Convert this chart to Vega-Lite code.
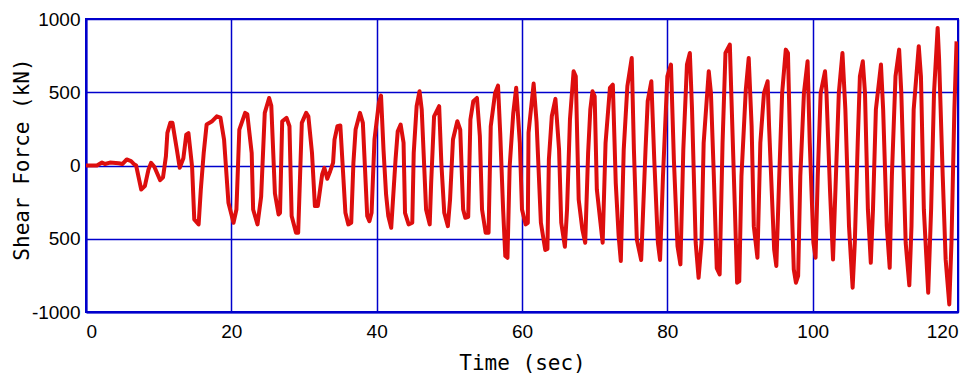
{
  "$schema": "https://vega.github.io/schema/vega-lite/v6.json",
  "width": 872,
  "height": 293,
  "autosize": {"type": "none"},
  "padding": {"left": 86, "top": 19, "right": 22, "bottom": 69},
  "background": "white",
  "config": {
    "view": {"stroke": "#0000cc", "strokeWidth": 2},
    "axis": {
      "grid": true,
      "gridColor": "#0000cc",
      "gridWidth": 1.5,
      "gridOpacity": 1,
      "domainColor": "#0000cc",
      "domainWidth": 2,
      "ticks": false,
      "labelColor": "black",
      "labelFont": "Liberation Sans",
      "labelFontSize": 19,
      "titleColor": "black",
      "titleFont": "DejaVu Sans Mono",
      "titleFontSize": 21,
      "titleFontWeight": "normal"
    }
  },
  "data": {
    "values": [
      {"t": 0, "v": 0}, {"t": 1.5, "v": 0}, {"t": 2.2, "v": 20}, {"t": 2.6, "v": 10}, {"t": 3.3, "v": 20},
      {"t": 4.5, "v": 15}, {"t": 5.0, "v": 10}, {"t": 5.6, "v": 41}, {"t": 6.2, "v": 30}, {"t": 6.6, "v": 10},
      {"t": 6.9, "v": 0}, {"t": 7.6, "v": -164}, {"t": 8.1, "v": -141}, {"t": 8.6, "v": -27}, {"t": 8.95, "v": 18},
      {"t": 9.4, "v": -9}, {"t": 10.2, "v": -100}, {"t": 10.6, "v": -80}, {"t": 11.0, "v": 64}, {"t": 11.2, "v": 223},
      {"t": 11.6, "v": 291}, {"t": 11.9, "v": 291}, {"t": 12.5, "v": 109}, {"t": 12.9, "v": -16}, {"t": 13.4, "v": 50},
      {"t": 13.8, "v": 211}, {"t": 14.1, "v": 221}, {"t": 14.6, "v": -9}, {"t": 14.9, "v": -368}, {"t": 15.5, "v": -402},
      {"t": 15.8, "v": -164}, {"t": 16.2, "v": 86}, {"t": 16.6, "v": 280}, {"t": 17.3, "v": 300}, {"t": 18.0, "v": 336},
      {"t": 18.5, "v": 327}, {"t": 19.0, "v": 177}, {"t": 19.6, "v": -254}, {"t": 20.3, "v": -391}, {"t": 20.7, "v": -300},
      {"t": 21.1, "v": 245}, {"t": 21.9, "v": 359}, {"t": 22.2, "v": 350}, {"t": 22.8, "v": 86}, {"t": 23.0, "v": -300},
      {"t": 23.6, "v": -402}, {"t": 24.1, "v": -214}, {"t": 24.6, "v": 359}, {"t": 25.2, "v": 461}, {"t": 25.5, "v": 407},
      {"t": 26.0, "v": -191}, {"t": 26.5, "v": -334}, {"t": 26.7, "v": -323}, {"t": 27.0, "v": 302}, {"t": 27.6, "v": 325},
      {"t": 28.0, "v": 268}, {"t": 28.3, "v": -345}, {"t": 28.9, "v": -459}, {"t": 29.2, "v": -459}, {"t": 29.7, "v": 291},
      {"t": 30.3, "v": 359}, {"t": 30.6, "v": 336}, {"t": 31.1, "v": 86}, {"t": 31.5, "v": -277}, {"t": 31.9, "v": -277},
      {"t": 32.5, "v": -61}, {"t": 32.8, "v": -16}, {"t": 33.2, "v": -91}, {"t": 33.6, "v": -39}, {"t": 34.0, "v": 18},
      {"t": 34.2, "v": 177}, {"t": 34.6, "v": 268}, {"t": 35.0, "v": 273}, {"t": 35.7, "v": -323}, {"t": 36.1, "v": -402},
      {"t": 36.5, "v": -391}, {"t": 36.8, "v": 18}, {"t": 37.1, "v": 245}, {"t": 37.7, "v": 359}, {"t": 38.1, "v": 291},
      {"t": 38.7, "v": -345}, {"t": 39.0, "v": -380}, {"t": 39.3, "v": -323}, {"t": 39.7, "v": 177}, {"t": 40.3, "v": 427},
      {"t": 40.6, "v": 477}, {"t": 40.95, "v": 100}, {"t": 41.3, "v": -200}, {"t": 41.6, "v": -345}, {"t": 42.0, "v": -425},
      {"t": 42.6, "v": 41}, {"t": 42.9, "v": 234}, {"t": 43.3, "v": 280}, {"t": 43.7, "v": 155}, {"t": 43.9, "v": -323},
      {"t": 44.4, "v": -402}, {"t": 44.9, "v": -391}, {"t": 45.1, "v": 86}, {"t": 45.5, "v": 405}, {"t": 45.9, "v": 507},
      {"t": 46.2, "v": 382}, {"t": 46.8, "v": -300}, {"t": 47.3, "v": -402}, {"t": 47.5, "v": -118}, {"t": 47.9, "v": 336},
      {"t": 48.6, "v": 405}, {"t": 48.9, "v": 18}, {"t": 49.3, "v": -323}, {"t": 49.8, "v": -414}, {"t": 50.1, "v": -232},
      {"t": 50.5, "v": 177}, {"t": 51.1, "v": 302}, {"t": 51.5, "v": 245}, {"t": 51.9, "v": -300}, {"t": 52.2, "v": -357},
      {"t": 52.6, "v": -350}, {"t": 52.9, "v": 314}, {"t": 53.3, "v": 439}, {"t": 53.8, "v": 461}, {"t": 54.2, "v": 200},
      {"t": 54.5, "v": -300}, {"t": 55.0, "v": -459}, {"t": 55.4, "v": -459}, {"t": 55.7, "v": 268}, {"t": 56.3, "v": 495},
      {"t": 56.7, "v": 545}, {"t": 57.0, "v": 223}, {"t": 57.4, "v": -300}, {"t": 57.7, "v": -618}, {"t": 58.0, "v": -630},
      {"t": 58.3, "v": -9}, {"t": 58.8, "v": 359}, {"t": 59.2, "v": 530}, {"t": 59.7, "v": 155}, {"t": 60.0, "v": -300},
      {"t": 60.5, "v": -402}, {"t": 60.8, "v": -391}, {"t": 60.9, "v": 223}, {"t": 61.6, "v": 559}, {"t": 62.0, "v": 300},
      {"t": 62.6, "v": -391}, {"t": 63.2, "v": -577}, {"t": 63.5, "v": -570}, {"t": 63.7, "v": 41}, {"t": 64.1, "v": 336},
      {"t": 64.6, "v": 455}, {"t": 65.1, "v": 109}, {"t": 65.4, "v": -391}, {"t": 65.9, "v": -555}, {"t": 66.2, "v": -300},
      {"t": 66.6, "v": 314}, {"t": 67.1, "v": 643}, {"t": 67.4, "v": 609}, {"t": 67.8, "v": -232}, {"t": 68.3, "v": -436},
      {"t": 68.7, "v": -527}, {"t": 69.1, "v": 86}, {"t": 69.4, "v": 382}, {"t": 69.7, "v": 507}, {"t": 70.0, "v": 473},
      {"t": 70.3, "v": -164}, {"t": 70.8, "v": -391}, {"t": 71.1, "v": -527}, {"t": 71.5, "v": 155}, {"t": 72.1, "v": 530},
      {"t": 72.5, "v": 552}, {"t": 72.9, "v": -118}, {"t": 73.3, "v": -482}, {"t": 73.6, "v": -652}, {"t": 74.0, "v": 109},
      {"t": 74.5, "v": 541}, {"t": 75.1, "v": 734}, {"t": 75.4, "v": 109}, {"t": 75.8, "v": -505}, {"t": 76.4, "v": -645},
      {"t": 77.0, "v": 109}, {"t": 77.3, "v": 439}, {"t": 77.8, "v": 575}, {"t": 78.2, "v": 41}, {"t": 78.7, "v": -527},
      {"t": 79.0, "v": -645}, {"t": 79.4, "v": -73}, {"t": 80.0, "v": 609}, {"t": 80.5, "v": 689}, {"t": 80.9, "v": 41},
      {"t": 81.4, "v": -550}, {"t": 81.8, "v": -675}, {"t": 82.2, "v": 109}, {"t": 82.7, "v": 689}, {"t": 83.1, "v": 768},
      {"t": 83.4, "v": 382}, {"t": 83.9, "v": -527}, {"t": 84.3, "v": -766}, {"t": 84.7, "v": -527}, {"t": 85.0, "v": 155},
      {"t": 85.7, "v": 643}, {"t": 86.0, "v": 496}, {"t": 86.4, "v": -73}, {"t": 86.8, "v": -700}, {"t": 87.2, "v": -743},
      {"t": 87.6, "v": 155}, {"t": 88.0, "v": 768}, {"t": 88.6, "v": 825}, {"t": 88.8, "v": 496}, {"t": 89.3, "v": -300},
      {"t": 89.6, "v": -800}, {"t": 89.9, "v": -789}, {"t": 90.2, "v": -73}, {"t": 90.8, "v": 518}, {"t": 91.2, "v": 734},
      {"t": 91.6, "v": 268}, {"t": 91.9, "v": -414}, {"t": 92.4, "v": -630}, {"t": 92.8, "v": 155}, {"t": 93.3, "v": 495},
      {"t": 93.8, "v": 575}, {"t": 94.0, "v": 268}, {"t": 94.7, "v": -573}, {"t": 95.0, "v": -686}, {"t": 95.4, "v": -73},
      {"t": 95.8, "v": 495}, {"t": 96.3, "v": 791}, {"t": 96.6, "v": 768}, {"t": 97.0, "v": -73}, {"t": 97.4, "v": -709},
      {"t": 97.7, "v": -800}, {"t": 98.0, "v": -754}, {"t": 98.3, "v": -73}, {"t": 98.8, "v": 495}, {"t": 99.3, "v": 711},
      {"t": 99.6, "v": 155}, {"t": 100.1, "v": -527}, {"t": 100.4, "v": -630}, {"t": 100.7, "v": -73}, {"t": 101.1, "v": 495},
      {"t": 101.7, "v": 643}, {"t": 101.9, "v": 495}, {"t": 102.4, "v": -186}, {"t": 102.8, "v": -641}, {"t": 103.2, "v": -73},
      {"t": 103.6, "v": 495}, {"t": 104.1, "v": 768}, {"t": 104.5, "v": 382}, {"t": 105.0, "v": -414}, {"t": 105.5, "v": -834},
      {"t": 105.8, "v": -527}, {"t": 106.2, "v": 155}, {"t": 106.5, "v": 609}, {"t": 106.9, "v": 711}, {"t": 107.2, "v": 495},
      {"t": 107.6, "v": -300}, {"t": 108.0, "v": -664}, {"t": 108.3, "v": -300}, {"t": 108.7, "v": 382}, {"t": 109.4, "v": 689},
      {"t": 109.7, "v": 382}, {"t": 110.2, "v": -414}, {"t": 110.6, "v": -698}, {"t": 110.9, "v": -73}, {"t": 111.4, "v": 609},
      {"t": 111.9, "v": 791}, {"t": 112.2, "v": 495}, {"t": 112.8, "v": -527}, {"t": 113.3, "v": -818}, {"t": 113.6, "v": -414},
      {"t": 113.9, "v": 382}, {"t": 114.6, "v": 814}, {"t": 114.9, "v": 609}, {"t": 115.3, "v": -300}, {"t": 115.9, "v": -868},
      {"t": 116.3, "v": -300}, {"t": 116.7, "v": 495}, {"t": 117.2, "v": 939}, {"t": 117.4, "v": 723}, {"t": 117.9, "v": -73},
      {"t": 118.3, "v": -641}, {"t": 118.8, "v": -948}, {"t": 119.1, "v": -527}, {"t": 119.5, "v": 382}, {"t": 119.8, "v": 847}
    ]
  },
  "mark": {"type": "line", "color": "#dd0e0e", "strokeWidth": 4, "strokeJoin": "round", "clip": true},
  "encoding": {
    "x": {
      "field": "t",
      "type": "quantitative",
      "scale": {"domain": [0, 120], "nice": false, "zero": false},
      "axis": {
        "values": [0, 20, 40, 60, 80, 100, 120],
        "format": "d",
        "labelPadding": 10,
        "labelFont": "Liberation Sans",
        "title": "Time (sec)",
        "titleX": 436,
        "titleY": 57,
        "titleBaseline": "alphabetic",
        "titleFont": "DejaVu Sans Mono"
      }
    },
    "y": {
      "field": "v",
      "type": "quantitative",
      "scale": {"domain": [-1000, 1000], "nice": false, "zero": false},
      "axis": {
        "values": [-1000, -500, 0, 500, 1000],
        "labelExpr": "datum.value < -600 ? '-1000' : format(abs(datum.value), 'd')",
        "labelPadding": 6,
        "title": "Shear Force (kN)",
        "titleX": -64,
        "titleY": 140,
        "titleAngle": 270,
        "titleAlign": "center",
        "titleBaseline": "middle"
      }
    }
  }
}
